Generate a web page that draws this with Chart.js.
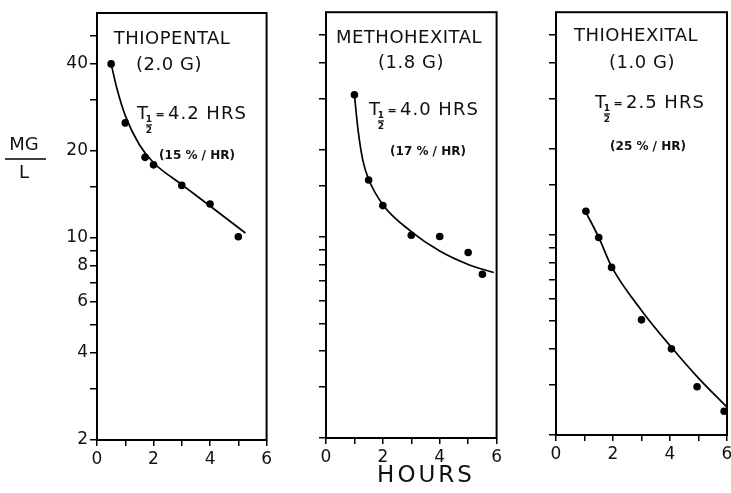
<!DOCTYPE html>
<html><head><meta charset="utf-8">
<script src="https://cdn.jsdelivr.net/npm/chart.js@4/dist/chart.umd.min.js"></script>
<style>
html,body{margin:0;padding:0;background:#fff;overflow:hidden;width:731px;height:493px;position:relative}
canvas{position:absolute;top:0}
</style></head><body>
<canvas id="c1" width="275" height="493" style="left:0px"></canvas>
<canvas id="c2" width="205" height="493" style="left:300px"></canvas>
<canvas id="c3" width="211" height="493" style="left:530px"></canvas>
<script>
// ---- data ----
const hourTicks = [0, 1, 2, 3, 4, 5, 6];
const hourLabels = [0, 2, 4, 6];
const concTicks = [2, 3, 4, 5, 6, 7, 8, 9, 10, 15, 20, 30, 40, 50];
const concLabels = [2, 4, 6, 8, 10, 20, 40];

const drugNames = ['THIOPENTAL', 'METHOHEXITAL', 'THIOHEXITAL'];
const doses = ['(2.0 G)', '(1.8 G)', '(1.0 G)'];
const halfLives = ['4.2 HRS', '4.0 HRS', '2.5 HRS'];
const rates = ['(15 % / HR)', '(17 % / HR)', '(25 % / HR)'];

const thiopentalHours = [0.5, 1.0, 1.7, 2.0, 3.0, 4.0, 5.0];
const thiopentalConc = [40, 25, 19, 17.9, 15.2, 13.1, 10.1];
const thiopentalFitHours = [0.5, 0.7, 1.0, 1.5, 2.0, 3.0, 4.0, 5.25];
const thiopentalFitConc = [40, 33, 26.5, 21, 18.2, 15.3, 12.9, 10.4];

const methohexitalHours = [1.0, 1.5, 2.0, 3.0, 4.0, 5.0, 5.5];
const methohexitalConc = [31, 15.7, 12.8, 10.1, 10.0, 8.8, 7.4];
const methohexitalFitHours = [1.0, 1.13, 1.3, 1.5, 2.0, 3.0, 4.0, 5.0, 5.9];
const methohexitalFitConc = [31, 23.3, 18.3, 15.8, 12.9, 10.4, 8.9, 8.0, 7.5];

const thiohexitalHours = [1.05, 1.5, 1.95, 3.0, 4.05, 4.95, 5.9];
const thiohexitalConc = [12.1, 9.8, 7.7, 5.05, 4.0, 2.95, 2.42];
const thiohexitalFitHours = [1.05, 1.5, 1.95, 3.0, 4.05, 4.95, 6.0];
const thiohexitalFitConc = [12.0, 9.8, 7.75, 5.45, 4.05, 3.2, 2.5];

// ---- helpers ----
const FONT = '"DejaVu Sans", sans-serif';
const toXY = (xs, ys) => xs.map((x, i) => ({x: x, y: ys[i]}));

const annot = {
  id: 'annot',
  afterDraw(chart, args, o) {
    const ctx = chart.ctx, a = chart.chartArea, ox = o.offsetX;
    ctx.save();
    ctx.strokeStyle = '#000'; ctx.lineWidth = 2;
    ctx.strokeRect(a.left, a.top, a.right - a.left, a.bottom - a.top);
    ctx.fillStyle = '#111';
    ctx.textBaseline = 'middle';
    ctx.textAlign = 'center';
    ctx.font = '18px ' + FONT;
    ctx.letterSpacing = '0.5px';
    ctx.fillText(drugNames[o.idx], o.name[0] - ox, o.name[1]);
    ctx.fillText(doses[o.idx], o.dose[0] - ox, o.dose[1]);
    // T 1/2 = ...
    const tx = o.t[0] - ox, ty = o.t[1];
    ctx.textAlign = 'left';
    ctx.letterSpacing = '0px';
    ctx.font = '18px ' + FONT;
    ctx.fillText('T', tx, ty);
    ctx.font = 'bold 9px ' + FONT;
    ctx.textAlign = 'center';
    ctx.fillText('1', tx + 12, ty + 6);
    ctx.fillText('2', tx + 12, ty + 17);
    ctx.lineWidth = 1.2;
    ctx.beginPath(); ctx.moveTo(tx + 9, ty + 11); ctx.lineTo(tx + 15, ty + 11); ctx.stroke();
    ctx.font = 'bold 11px ' + FONT;
    ctx.fillText('=', tx + 23, ty + 1);
    ctx.textAlign = 'left';
    ctx.font = '18px ' + FONT;
    ctx.letterSpacing = '1px';
    ctx.fillText(halfLives[o.idx], tx + 31, ty);
    ctx.letterSpacing = '0px';
    ctx.textAlign = 'center';
    ctx.font = 'bold 12px ' + FONT;
    ctx.fillText(rates[o.idx], o.rate[0] - ox, o.rate[1]);
    if (o.extra) o.extra(ctx, ox);
    ctx.restore();
  }
};

function makeChart(id, idx, pts, fit, L) {
  return new Chart(document.getElementById(id), {
    type: 'scatter',
    data: {
      datasets: [
        {data: toXY(fit[0], fit[1]), showLine: true, pointRadius: 0, borderColor: '#000',
         borderWidth: 1.7, cubicInterpolationMode: 'monotone', clip: false, order: 2},
        {data: toXY(pts[0], pts[1]), pointRadius: 3.8, pointBackgroundColor: '#000',
         pointBorderColor: '#000', pointBorderWidth: 0, showLine: false, clip: false, order: 1}
      ]
    },
    options: {
      responsive: false, animation: false, devicePixelRatio: 1,
      layout: {padding: {top: L.top, right: L.right, bottom: L.bottom, left: 0}},
      plugins: {legend: {display: false}, tooltip: {enabled: false},
        annot: {idx: idx, offsetX: L.offsetX, name: L.name, dose: L.dose, t: L.t, rate: L.rate, extra: L.extra}},
      scales: {
        x: {
          type: 'linear', min: 0, max: 6,
          afterBuildTicks: s => { s.ticks = hourTicks.map(v => ({value: v})); },
          afterFit: s => { s.height = 30; },
          border: {display: false},
          grid: {display: true, drawOnChartArea: false, drawTicks: true, tickLength: 6, color: '#000', lineWidth: 1.5},
          ticks: {color: '#111', padding: 3, maxRotation: 0, autoSkip: false,
            font: {family: FONT, size: 17},
            callback: v => hourLabels.includes(v) ? String(v) : ''}
        },
        y: {
          type: 'logarithmic', min: 2, max: 60,
          afterBuildTicks: s => { s.ticks = concTicks.map(v => ({value: v})); },
          afterFit: s => { s.width = L.yWidth; },
          border: {display: false},
          grid: {display: true, drawOnChartArea: false, drawTicks: true, tickLength: 7, color: '#000', lineWidth: 1.5},
          ticks: {color: '#111', padding: 2, autoSkip: false,
            font: {family: FONT, size: 17},
            callback: v => (L.showY && concLabels.includes(v)) ? String(v) : ''}
        }
      }
    },
    plugins: [annot]
  });
}

makeChart('c1', 0, [thiopentalHours, thiopentalConc], [thiopentalFitHours, thiopentalFitConc], {
  offsetX: 0, yWidth: 97, top: 13, right: 8, bottom: 493 - 440 - 30, showY: true,
  name: [172, 39], dose: [169, 65], t: [137, 114], rate: [197, 156],
  extra: (ctx, ox) => {
    ctx.font = '18px ' + FONT; ctx.textAlign = 'center'; ctx.letterSpacing = '0px';
    ctx.fillText('MG', 24 - ox, 145);
    ctx.fillText('L', 24 - ox, 173);
    ctx.lineWidth = 1.6;
    ctx.beginPath(); ctx.moveTo(5 - ox, 159); ctx.lineTo(46 - ox, 159); ctx.stroke();
  }
});
makeChart('c2', 1, [methohexitalHours, methohexitalConc], [methohexitalFitHours, methohexitalFitConc], {
  offsetX: 300, yWidth: 26, top: 8, right: 7, bottom: 493 - 438 - 30, showY: false,
  name: [409, 38], dose: [411, 63], t: [369, 110], rate: [428, 152],
  extra: (ctx, ox) => {
    ctx.font = '23px ' + FONT; ctx.textAlign = 'center'; ctx.letterSpacing = '3px';
    ctx.fillText('HOURS', 426 - ox, 476);
  }
});
makeChart('c3', 2, [thiohexitalHours, thiohexitalConc], [thiohexitalFitHours, thiohexitalFitConc], {
  offsetX: 530, yWidth: 26, top: 8, right: 14, bottom: 493 - 435 - 30, showY: false,
  name: [636, 36], dose: [642, 63], t: [595, 103], rate: [648, 147]
});
</script>
</body></html>
